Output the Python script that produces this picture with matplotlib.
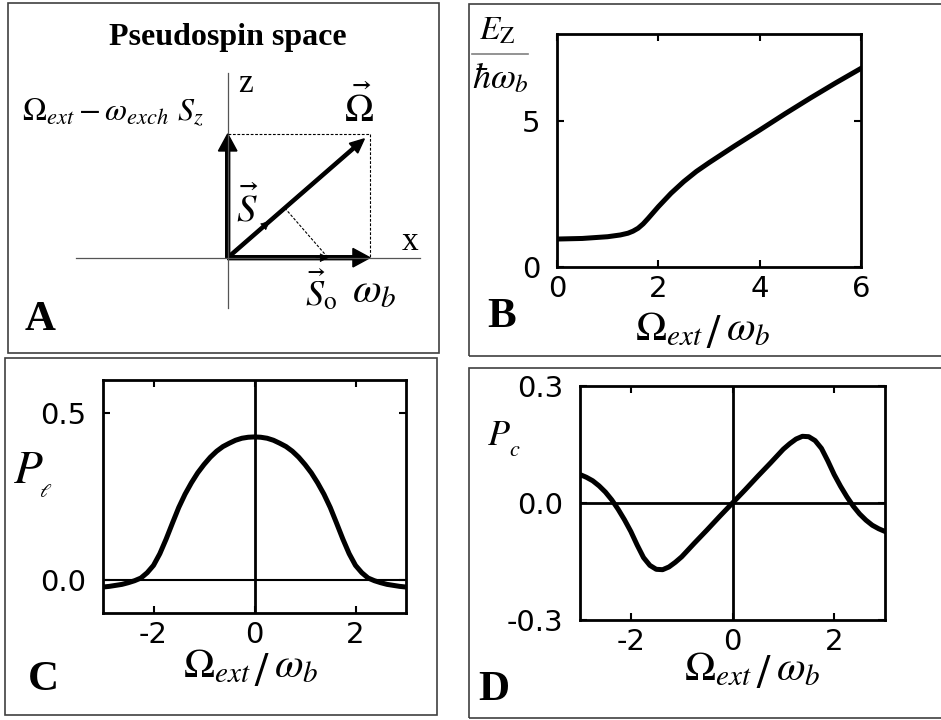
import matplotlib
matplotlib.use("Agg")
import matplotlib.pyplot as plt
from matplotlib.patches import Rectangle

plt.rcParams['font.family'] = 'DejaVu Sans'
plt.rcParams['mathtext.fontset'] = 'stix'
plt.rcParams['axes.unicode_minus'] = False

W, H = 941, 720

# panel B: Zeeman energy vs external field
ez_x = [0, 0.5, 1.0, 1.25, 1.4, 1.5, 1.6, 1.7, 1.8, 1.9, 2.0, 2.25, 2.5, 2.75,
        3.0, 3.5, 4.0, 4.5, 5.0, 5.5, 6.0]
ez_y = [0.96, 0.98, 1.04, 1.10, 1.16, 1.23, 1.33, 1.48, 1.67, 1.87, 2.07, 2.53, 2.93, 3.28,
        3.58, 4.15, 4.70, 5.26, 5.80, 6.32, 6.82]

# panel C: linear polarization
pl_x = [-3, -2.875, -2.75, -2.625, -2.5, -2.375, -2.25, -2.125, -2, -1.875, -1.75, -1.625,
        -1.5, -1.375, -1.25, -1.125, -1, -0.875, -0.75, -0.625, -0.5, -0.375, -0.25, -0.125, 0,
        0.125, 0.25, 0.375, 0.5, 0.625, 0.75, 0.875, 1, 1.125, 1.25, 1.375, 1.5,
        1.625, 1.75, 1.875, 2, 2.125, 2.25, 2.375, 2.5, 2.625, 2.75, 2.875, 3]
pl_y = [-0.022, -0.020, -0.017, -0.014, -0.009, -0.003, 0.005, 0.021, 0.043, 0.078, 0.122, 0.170,
        0.217, 0.257, 0.291, 0.321, 0.346, 0.368, 0.386, 0.400, 0.410, 0.419, 0.425, 0.428, 0.429,
        0.428, 0.425, 0.419, 0.410, 0.400, 0.386, 0.368, 0.346, 0.321, 0.291, 0.257, 0.217,
        0.170, 0.122, 0.078, 0.043, 0.021, 0.005, -0.003, -0.009, -0.014, -0.017, -0.020, -0.022]

# panel D: circular polarization
pc_x = [-3, -2.875, -2.75, -2.625, -2.5, -2.375, -2.25, -2.125, -2.0, -1.875, -1.75, -1.625,
        -1.5, -1.375, -1.25, -1.125, -1.0, -0.75, -0.5, -0.25, 0,
        0.25, 0.5, 0.75, 1.0, 1.125, 1.25, 1.375, 1.5, 1.625, 1.75, 1.875,
        2.0, 2.125, 2.25, 2.375, 2.5, 2.625, 2.75, 2.875, 3]
pc_y = [0.073, 0.066, 0.057, 0.044, 0.028, 0.008, -0.016, -0.043, -0.073, -0.108, -0.140, -0.160,
        -0.170, -0.171, -0.164, -0.152, -0.138, -0.103, -0.069, -0.034, 0,
        0.034, 0.069, 0.103, 0.138, 0.152, 0.164, 0.171, 0.170, 0.160, 0.140, 0.108,
        0.073, 0.043, 0.016, -0.008, -0.028, -0.044, -0.057, -0.066, -0.073]

# panel A: pseudospin vectors (units of omega_b)
omega_b = 1.0
omega_z = 0.87
s0 = 0.705


def fbox(l, t, r, b):
    return [l / W, 1 - b / H, (r - l) / W, (b - t) / H]


def ftext(x, y, s, **kw):
    fig.text(x / W, 1 - y / H, s, **kw)


def xlabel(xs, yb):
    # Omega_ext / omega_b, built from three pieces around the slash
    ftext(xs - 11, yb, r'$\Omega_{ext}$', fontsize=30, ha='right', va='baseline')
    ftext(xs, yb - 4, r'$/$', fontsize=34, ha='center', va='center')
    ftext(xs + 12, yb, r'$\omega_b$', fontsize=30, ha='left', va='baseline')


fig = plt.figure(figsize=(W / 100, H / 100), dpi=100)

# panel frames
for l, t, r, b in [(7.7, 3, 439, 352.7), (469, 4, 945, 356), (5, 357.7, 436.5, 715), (469, 368, 945, 717.7)]:
    fig.add_artist(Rectangle((l / W, 1 - b / H), (r - l) / W, (b - t) / H, transform=fig.transFigure,
                             fill=False, ec='#404040', lw=1.2))

serif = 'Liberation Serif'

# ---- A ----
ax = fig.add_axes(fbox(7.7, 3, 439, 352.7))
ax.axis('off')
u = 142.3
ax.set_xlim((7.7 - 227.7) / u, (439 - 227.7) / u)
ax.set_ylim((257.7 - 352.7) / u, (257.7 - 3) / u)
ax.plot([-1.065, 1.35], [0, 0], color='#555555', lw=0.9)
ax.plot([0, 0], [-0.35, 1.30], color='#555555', lw=0.9)
dash = (0, (2.5, 1.5))
ax.plot([0, omega_b], [omega_z, omega_z], color='k', lw=0.8, ls=dash)
ax.plot([omega_b, omega_b], [omega_z, 0], color='k', lw=0.8, ls=dash)
t = s0 * omega_b / (omega_b ** 2 + omega_z ** 2)
ax.plot([t * omega_b, s0], [t * omega_z, 0], color='k', lw=0.8, ls=dash)
ax.arrow(0, 0, 0, omega_z, width=0.028, head_width=0.13, head_length=0.12,
         length_includes_head=True, fc='k', ec='k')
ax.arrow(0, 0, omega_b, 0, width=0.028, head_width=0.13, head_length=0.12,
         length_includes_head=True, fc='k', ec='k')
ax.arrow(0, 0, omega_b * 0.96, omega_z * 0.96, width=0.022, head_width=0.09, head_length=0.1,
         length_includes_head=True, fc='k', ec='k')
ax.annotate('', xy=(0.31, 0.27), xytext=(0.2, 0.174),
            arrowprops=dict(arrowstyle='-|>', color='k', lw=0.5, mutation_scale=14))
ax.annotate('', xy=(0.73, 0), xytext=(0.6, 0),
            arrowprops=dict(arrowstyle='-|>', color='k', lw=0.5, mutation_scale=14))
ax.text(0, 1.55, 'Pseudospin space', family=serif, weight='bold', fontsize=23, ha='center', va='center')
ax.text(0.07, 1.164, 'z', family=serif, fontsize=24, ha='left', va='baseline')
ax.text(1.226, 0.054, 'x', family=serif, fontsize=24, ha='left', va='baseline')
ax.text(0.92, 0.953, r'$\vec{\Omega}$', fontsize=28, ha='center', va='baseline')
ax.text(-1.445, 0.967, r'$\Omega_{ext} - \omega_{exch}\ S_z$', fontsize=23, ha='left', va='baseline')
ax.text(0.136, 0.251, r'$\vec{S}$', fontsize=28, ha='center', va='baseline')
ax.text(0.545, -0.333, r'$\vec{S}_{\mathrm{o}}$', fontsize=26, ha='left', va='baseline')
ax.text(0.873, -0.311, r'$\omega_b$', fontsize=30, ha='left', va='baseline')


def style(a):
    for s in a.spines.values():
        s.set_linewidth(2.0)
    a.tick_params(direction='in', top=True, right=True, length=5, width=1.5, labelsize=21)
    a.tick_params(axis='x', pad=6)
    a.tick_params(axis='y', pad=12)


# ---- B ----
axb = fig.add_axes(fbox(557, 34, 861, 267))
axb.plot(ez_x, ez_y, color='k', lw=3.6, solid_joinstyle='round')
axb.set_xlim(0, 6)
axb.set_ylim(0, 8)
axb.set_xticks([0, 2, 4, 6])
axb.set_yticks([0, 5])
style(axb)
ftext(497, 40, r'$E_{\mathrm{Z}}$', fontsize=24, ha='center', va='baseline')
fig.add_artist(plt.Line2D([472 / W, 528 / W], [1 - 54 / H, 1 - 54 / H], color='#808080', lw=1.2))
ftext(472, 88, r'$\hbar\omega_b$', fontsize=26, ha='left', va='baseline')
xlabel(714, 340)

# ---- C ----
axc = fig.add_axes(fbox(103, 380, 406, 613))
axc.axhline(0, color='k', lw=1.5)
axc.axvline(0, color='k', lw=2.0)
axc.plot(pl_x, pl_y, color='k', lw=3.6, solid_joinstyle='round')
axc.set_xlim(-3, 3)
axc.set_ylim(-0.1, 0.6)
axc.set_xticks([-2, 0, 2])
axc.set_yticks([0.0, 0.5])
axc.set_yticklabels(['0.0', '0.5'])
style(axc)
ftext(13, 483, r'$P$', fontsize=34, ha='left', va='baseline')
ftext(39, 497, r'$\ell$', fontsize=14, ha='left', va='baseline')
xlabel(262, 677)

# ---- D ----
axd = fig.add_axes(fbox(580, 386, 885, 620))
axd.axhline(0, color='k', lw=2.0)
axd.axvline(0, color='k', lw=2.0)
axd.plot(pc_x, pc_y, color='k', lw=3.6, solid_joinstyle='round')
axd.set_xlim(-3, 3)
axd.set_ylim(-0.3, 0.3)
axd.set_xticks([-2, 0, 2])
axd.set_yticks([-0.3, 0.0, 0.3])
axd.set_yticklabels(['-0.3', '0.0', '0.3'])
style(axd)
ftext(487, 445, r'$P$', fontsize=26, ha='left', va='baseline')
ftext(509, 456, r'$c$', fontsize=16, ha='left', va='baseline')
xlabel(763.5, 680)

# panel letters
for x, y, s in [(25, 330, 'A'), (487, 327, 'B'), (28, 690, 'C'), (478, 700, 'D')]:
    ftext(x, y, s, family=serif, weight='bold', fontsize=31, ha='left', va='baseline')

fig.savefig('out.png', dpi=100)
